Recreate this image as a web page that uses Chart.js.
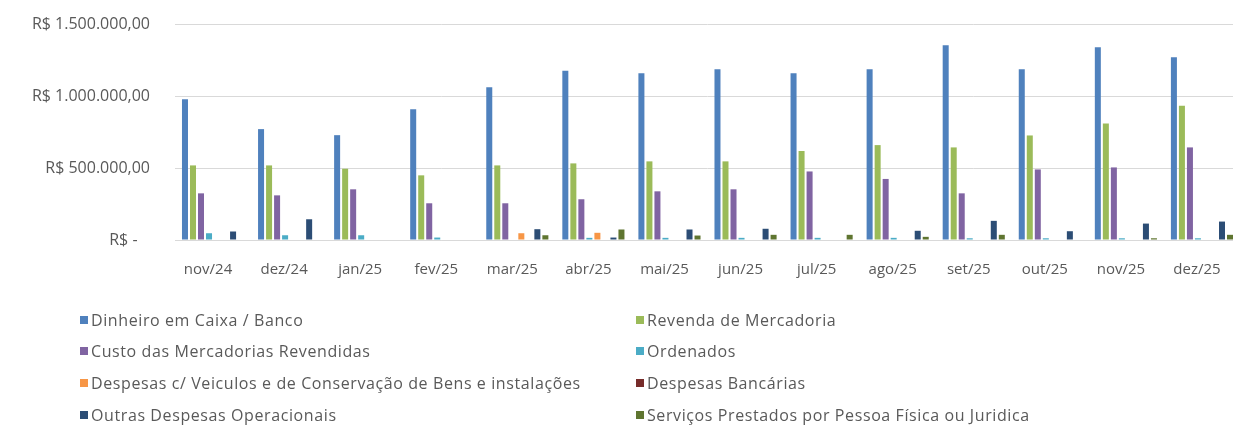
<!DOCTYPE html>
<html>
<head>
<meta charset="utf-8">
<script src="https://cdn.jsdelivr.net/npm/chart.js@4.4.1/dist/chart.umd.min.js"></script>
<style>
  html, body { margin: 0; padding: 0; background: #fff; overflow: hidden; }
  #wrap { width: 1240px; height: 448px; }
</style>
</head>
<body>
<div id="wrap"><canvas id="chart"></canvas></div>
<script>
// ---- data ----
const months = ['nov/24','dez/24','jan/25','fev/25','mar/25','abr/25','mai/25','jun/25','jul/25','ago/25','set/25','out/25','nov/25','dez/25'];

const dinheiro  = [978000, 770000, 728000, 908000, 1061000, 1175000, 1158000, 1186000, 1158000, 1186000, 1352000, 1186000, 1338000, 1269000];
const revenda   = [518000, 518000, 495000, 449000, 518000, 532000, 546000, 546000, 618000, 659000, 643000, 726000, 809000, 933000];
const custo     = [324000, 310000, 352000, 255000, 255000, 283000, 338000, 352000, 476000, 424000, 324000, 490000, 504000, 643000];
const ordenados = [47000, 33000, 33000, 17000, 0, 15000, 15000, 15000, 15000, 15000, 12000, 12000, 12000, 12000];
const veiculos  = [0, 0, 0, 0, 47000, 50000, 0, 0, 0, 0, 0, 0, 0, 0];
const bancarias = [0, 0, 0, 0, 0, 0, 0, 0, 0, 0, 0, 0, 0, 0];
const outras    = [59000, 144000, 0, 0, 75000, 17000, 73000, 78000, 0, 64000, 133000, 61000, 114000, 128000];
const servicos  = [0, 0, 0, 0, 33000, 73000, 31000, 36000, 36000, 22000, 36000, 0, 12000, 36000];

const yTicks = [0, 500000, 1000000, 1500000];

const seriesNames = [
  'Dinheiro em Caixa / Banco',
  'Revenda de Mercadoria',
  'Custo das Mercadorias Revendidas',
  'Ordenados',
  'Despesas c/ Veiculos e de Conservação de Bens e instalações',
  'Despesas Bancárias',
  'Outras Despesas Operacionais',
  'Serviços Prestados por Pessoa Física ou Juridica'
];
const seriesColors = ['#4F81BD', '#9BBB59', '#8064A2', '#4BACC6', '#F79646', '#772C2A', '#2C4D75', '#5F7530'];
const seriesData = [dinheiro, revenda, custo, ordenados, veiculos, bancarias, outras, servicos];

const textColor = '#595959';
const gridColor = '#d9d9d9';
const fontFamily = '"Open Sans", "Liberation Sans", sans-serif';

function brl(v) {
  if (v === 0) return 'R$ -   ';
  const s = Math.round(v).toString().replace(/\B(?=(\d{3})+(?!\d))/g, '.');
  return 'R$ ' + s + ',00';
}

// legend drawn in two columns under the plot, like the spreadsheet
const twoColLegend = {
  id: 'twoColLegend',
  afterDraw(chart) {
    const ctx = chart.ctx;
    ctx.save();
    ctx.font = '16px ' + fontFamily;
    ctx.letterSpacing = '0.6px';
    ctx.textBaseline = 'middle';
    ctx.textAlign = 'left';
    const rowsY = [320, 351, 383, 415];
    const col1 = 80, col2 = 636, box = 8;
    chart.data.datasets.forEach((ds, i) => {
      const row = Math.floor(i / 2);
      const y = rowsY[row];
      let x = col1;
      if (i % 2 === 1) {
        const prev = chart.data.datasets[i - 1].label;
        const prevEnd = col1 + box + 3 + ctx.measureText(prev).width + 6;
        x = Math.max(col2, prevEnd);
      }
      ctx.fillStyle = ds.backgroundColor;
      ctx.fillRect(x, y - box / 2, box, box);
      ctx.fillStyle = textColor;
      ctx.fillText(ds.label, x + box + 3, y + 1);
    });
    ctx.restore();
  }
};

new Chart(document.getElementById('chart'), {
  type: 'bar',
  data: {
    labels: months,
    datasets: seriesNames.map((name, i) => ({
      label: name,
      data: seriesData[i],
      backgroundColor: seriesColors[i],
      borderWidth: 0,
      categoryPercentage: 0.843,
      barPercentage: 0.75
    }))
  },
  options: {
    responsive: true,
    maintainAspectRatio: false,
    animation: false,
    layout: { padding: { top: 24, bottom: 158, left: 0, right: 0 } },
    plugins: { legend: { display: false }, tooltip: { enabled: false } },
    scales: {
      x: {
        grid: { display: false, drawTicks: false },
        border: { color: gridColor, width: 1 },
        ticks: { color: textColor, font: { family: fontFamily, size: 15 }, padding: 21, labelOffset: -5, maxRotation: 0, autoSkip: false },
        afterFit: s => { s.height = 50; s.paddingLeft = 0; s.paddingRight = 0; }
      },
      y: {
        min: 0, max: 1500000,
        afterBuildTicks: s => { s.ticks = yTicks.map(v => ({ value: v })); },
        grid: { color: gridColor, drawTicks: false, lineWidth: 1 },
        border: { display: false },
        ticks: { color: textColor, font: { family: fontFamily, size: 16 }, padding: 25, callback: v => brl(v) },
        afterFit: s => { s.width = 175; s.paddingTop = 0; s.paddingBottom = 0; }
      }
    }
  },
  plugins: [twoColLegend]
});
</script>
</body>
</html>
